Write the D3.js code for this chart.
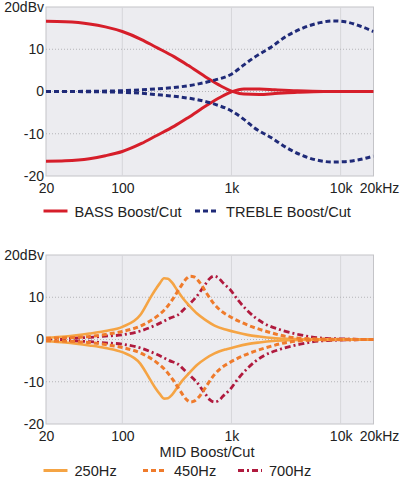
<!DOCTYPE html>
<html>
<head>
<meta charset="utf-8">
<script src="https://cdn.jsdelivr.net/npm/d3@7"></script>
<style>
  body { margin: 0; background: #fff; }
  svg { display: block; font-family: "Liberation Sans", Arial, Helvetica, sans-serif; }
  .tick text { font-size: 14px; fill: #222; }
  .lbl { font-size: 14.6px; fill: #222; }
</style>
</head>
<body>
<svg width="400" height="480"></svg>
<script>
// axis ticks
var xTicks = [20, 100, 1000, 10000, 20000];
var xTickLabels = ["20", "100", "1k", "10k", "20kHz"];
var yTicks = [-20, -10, 0, 10, 20];
var yTickLabels = ["-20", "-10", "0", "10", "20dBv"];

// top panel: bass / treble
var bassFreq = [20, 30, 50, 70, 100, 150, 200, 300, 400, 600, 800, 1000, 1300, 1800, 2500, 4000, 7000, 20000];
var bassBoost = [16.6, 16.5, 16.0, 15.3, 14.2, 12.3, 10.6, 8.2, 6.2, 3.2, 1.3, 0.1, -0.6, -0.7, -0.5, -0.2, 0, 0];
var bassCut = [-16.5, -16.4, -15.9, -15.2, -14.2, -12.3, -10.6, -8.2, -6.2, -3.2, -1.3, -0.1, 0.6, 0.6, 0.4, 0.15, 0, 0];

var trebleFreq = [20, 50, 100, 150, 200, 338, 500, 700, 1000, 1300, 1600, 2300, 3200, 4500, 6500, 8500, 11000, 15000, 20000];
var trebleBoost = [0, 0.05, 0.2, 0.4, 0.6, 1.1, 1.8, 2.7, 4.1, 6.3, 8.0, 10.5, 13.1, 15.0, 16.3, 16.7, 16.5, 15.5, 14.2];
var trebleCut = [0, -0.05, -0.2, -0.4, -0.7, -1.3, -2.0, -3.0, -4.6, -6.6, -8.5, -10.9, -13.3, -15.2, -16.4, -16.7, -16.6, -16.1, -15.3];

// bottom panel: mid
var mid250Freq = [20, 30, 50, 70, 100, 146, 180, 200, 222, 241, 262, 285, 316, 353, 418, 480, 580, 700, 900, 1100, 1400, 1800, 2400, 3500, 5000, 20000];
var mid250Boost = [0.4, 0.7, 1.4, 2.0, 3.0, 5.8, 9.8, 11.7, 13.4, 14.5, 14.4, 13.5, 11.8, 10.0, 7.8, 6.2, 4.6, 3.3, 2.3, 1.7, 1.1, 0.7, 0.35, 0.15, 0.05, 0];
var mid250Cut = [-0.4, -0.7, -1.4, -2.0, -3.0, -5.7, -9.5, -11.4, -13.0, -14.0, -13.9, -13.1, -11.5, -9.8, -7.7, -6.1, -4.5, -3.3, -2.3, -1.7, -1.1, -0.7, -0.35, -0.15, -0.05, 0];

var mid450Freq = [20, 30, 50, 70, 100, 150, 206, 247, 294, 338, 390, 420, 454, 515, 590, 683, 800, 973, 1380, 2100, 3200, 5000, 20000];
var mid450Boost = [0.3, 0.4, 0.7, 1.2, 1.9, 3.3, 5.4, 7.2, 9.8, 12.3, 14.5, 15.0, 14.8, 13.4, 11.0, 8.6, 6.8, 5.4, 3.5, 1.9, 0.7, 0.2, 0];
var mid450Cut = [-0.3, -0.4, -0.7, -1.2, -1.9, -3.3, -5.4, -7.2, -9.7, -12.1, -14.3, -14.8, -14.6, -13.3, -11.0, -8.6, -6.8, -5.4, -3.5, -1.9, -0.7, -0.2, 0];

var mid700Freq = [20, 30, 50, 70, 100, 150, 206, 270, 338, 362, 420, 480, 573, 636, 695, 758, 838, 973, 1150, 1380, 1650, 1960, 2800, 4260, 7000, 20000];
var mid700Boost = [0.2, 0.3, 0.5, 0.8, 1.1, 2.1, 3.5, 5.0, 6.2, 7.0, 8.6, 10.2, 13.0, 14.5, 15.0, 14.6, 13.4, 11.8, 9.3, 7.0, 5.2, 3.9, 2.3, 1.1, 0.3, 0];
var mid700Cut = [-0.2, -0.3, -0.5, -0.8, -1.1, -2.1, -3.5, -5.0, -6.2, -7.0, -8.6, -10.1, -12.8, -14.3, -14.8, -14.5, -13.4, -11.8, -9.3, -7.0, -5.2, -3.9, -2.3, -1.1, -0.3, 0];

var svg = d3.select("svg");

var x = d3.scaleLog().domain([20, 20000]).range([46, 373.5]);

var styles = {
  bass:   { color: "#d61e2a", width: 3,   dash: null },
  treble: { color: "#1f2a78", width: 3,   dash: "5,3" },
  m250:   { color: "#f5a444", width: 2.6, dash: null },
  m450:   { color: "#ef7b2c", width: 3,   dash: "5,3" },
  m700:   { color: "#b01a3e", width: 2.8, dash: "6,3,2,3" }
};

function toPts(freq, vals) {
  return freq.map(function(f, i) { return [f, vals[i]]; });
}

function drawPanel(top, bottom, id, series) {
  var y = d3.scaleLinear().domain([-20, 20]).range([bottom, top]);
  var g = svg.append("g");

  g.append("clipPath").attr("id", id)
    .append("rect")
      .attr("x", x(20)).attr("y", top)
      .attr("width", x(20000) - x(20)).attr("height", bottom - top);

  g.append("rect")
    .attr("x", x(20)).attr("y", top)
    .attr("width", x(20000) - x(20)).attr("height", bottom - top)
    .style("fill", "#ececf0")
    .style("stroke", "#c4c4c8")
    .style("stroke-width", 1);

  // grid
  g.selectAll(".vgrid").data([100, 1000, 10000]).enter().append("line")
    .attr("x1", function(d) { return x(d); }).attr("x2", function(d) { return x(d); })
    .attr("y1", top).attr("y2", bottom)
    .style("stroke", "#d6d6da").style("stroke-width", 1);
  g.selectAll(".hgrid").data([-10, 0, 10]).enter().append("line")
    .attr("x1", x(20)).attr("x2", x(20000))
    .attr("y1", function(d) { return y(d); }).attr("y2", function(d) { return y(d); })
    .style("stroke", "#b4b4b8").style("stroke-width", 1)
    .style("stroke-dasharray", "1,2");

  var line = d3.line()
    .x(function(d) { return x(d[0]); })
    .y(function(d) { return y(d[1]); })
    .curve(d3.curveMonotoneX);

  var curves = g.append("g").attr("clip-path", "url(#" + id + ")");
  series.forEach(function(s) {
    var st = styles[s.style];
    curves.append("path")
      .datum(s.pts)
      .attr("d", line)
      .style("fill", "none")
      .style("stroke", st.color)
      .style("stroke-width", st.width)
      .style("stroke-dasharray", st.dash)
      .style("stroke-linejoin", "round");
  });

  var yAxis = d3.axisLeft(y).tickValues(yTicks).tickSize(0).tickPadding(2)
    .tickFormat(function(d, i) { return yTickLabels[i]; });
  var ya = g.append("g").attr("transform", "translate(" + x(20) + ",0)").call(yAxis);
  ya.select(".domain").remove();

  var xAxis = d3.axisBottom(x).tickValues(xTicks).tickSize(0).tickPadding(7)
    .tickFormat(function(d, i) { return xTickLabels[i]; });
  var xa = g.append("g").attr("transform", "translate(0," + bottom + ")").call(xAxis);
  xa.select(".domain").remove();
  xa.selectAll(".tick text").filter(function(d) { return d === 20000; }).attr("dx", 5.5);

  return g;
}

function drawLegend(items, ly) {
  items.forEach(function(it) {
    var st = styles[it.style];
    svg.append("line")
      .attr("x1", it.x).attr("x2", it.x + 24)
      .attr("y1", ly).attr("y2", ly)
      .style("stroke", st.color)
      .style("stroke-width", 3)
      .style("stroke-dasharray", st.dash);
    svg.append("text").attr("class", "lbl")
      .attr("x", it.x + 31).attr("y", ly + 5.5)
      .text(it.label);
  });
}

drawPanel(7, 176, "clipTop", [
  { style: "bass", pts: toPts(bassFreq, bassBoost) },
  { style: "bass", pts: toPts(bassFreq, bassCut) },
  { style: "treble", pts: toPts(trebleFreq, trebleBoost) },
  { style: "treble", pts: toPts(trebleFreq, trebleCut) }
]);

drawLegend([
  { style: "bass", label: "BASS Boost/Cut", x: 43.5 },
  { style: "treble", label: "TREBLE Boost/Cut", x: 195 }
], 211);

drawPanel(255, 424, "clipBottom", [
  { style: "m700", pts: toPts(mid700Freq, mid700Boost) },
  { style: "m700", pts: toPts(mid700Freq, mid700Cut) },
  { style: "m250", pts: toPts(mid250Freq, mid250Boost) },
  { style: "m250", pts: toPts(mid250Freq, mid250Cut) },
  { style: "m450", pts: toPts(mid450Freq, mid450Boost) },
  { style: "m450", pts: toPts(mid450Freq, mid450Cut) }
]);

svg.append("text").attr("class", "lbl")
  .attr("x", 207).attr("y", 456.5)
  .attr("text-anchor", "middle")
  .text("MID Boost/Cut");

drawLegend([
  { style: "m250", label: "250Hz", x: 43.5 },
  { style: "m450", label: "450Hz", x: 143 },
  { style: "m700", label: "700Hz", x: 238 }
], 470.5);
</script>
</body>
</html>
